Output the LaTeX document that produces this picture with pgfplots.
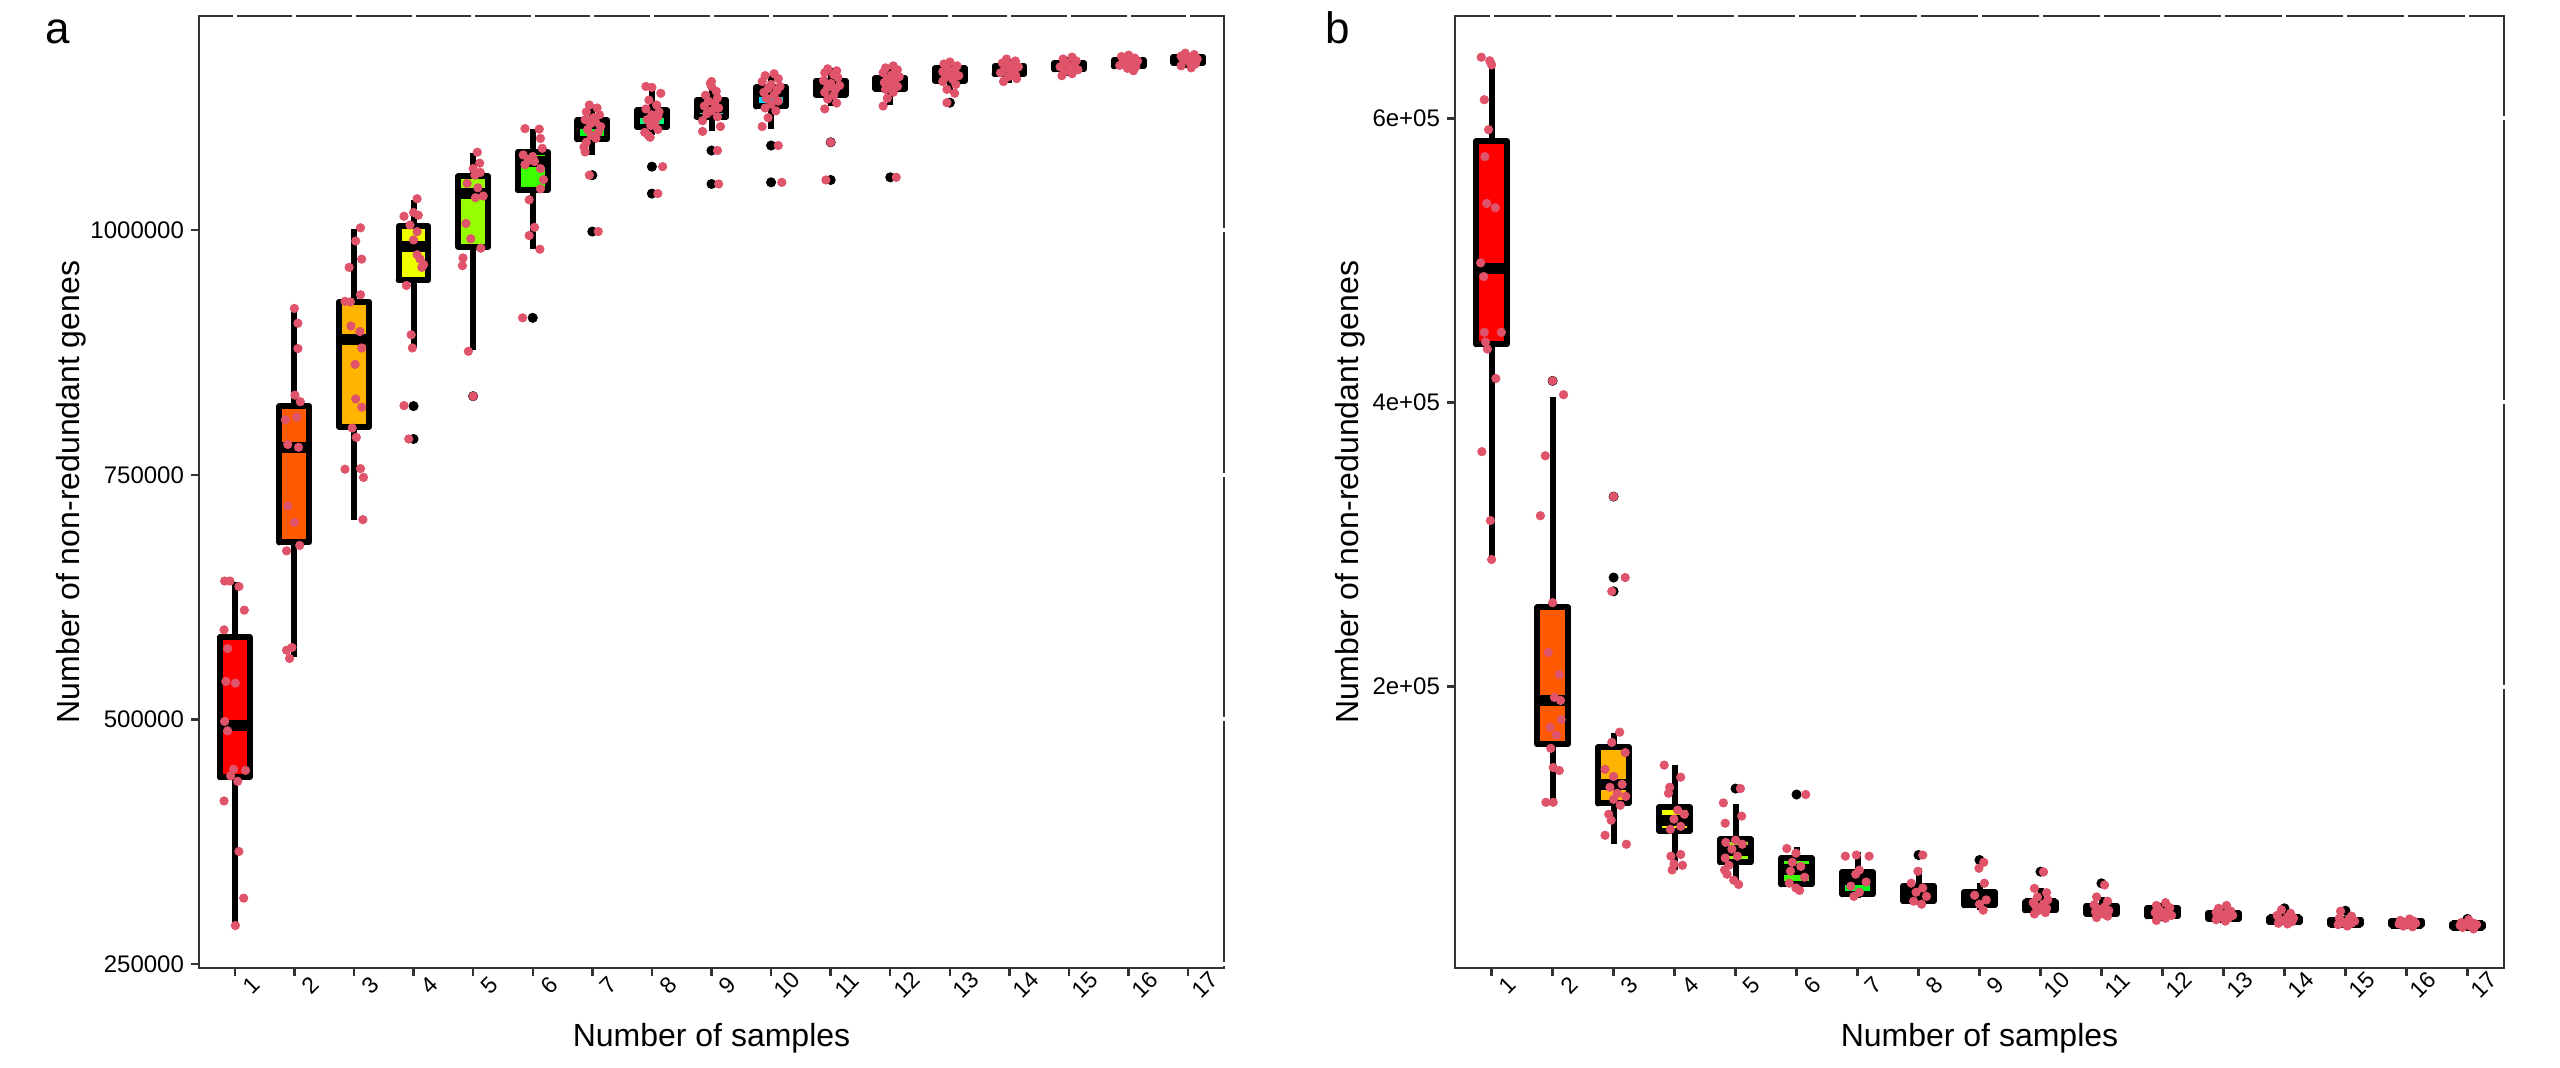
\documentclass[border=0pt]{standalone}
\usepackage{fontspec}
\setmainfont{Liberation Sans}
\usepackage{pgfplots}
\usepackage{pgfplotstable}
\pgfplotsset{compat=1.18}

\definecolor{ptpink}{HTML}{DF536B}
\definecolor{axgray}{HTML}{333333}
\definecolor{r1}{HTML}{FF0000}
\definecolor{r2}{HTML}{FF5A00}
\definecolor{r3}{HTML}{FFB400}
\definecolor{r4}{HTML}{F0FF00}
\definecolor{r5}{HTML}{96FF00}
\definecolor{r6}{HTML}{3CFF00}
\definecolor{r7}{HTML}{00FF1E}
\definecolor{r8}{HTML}{00FF78}
\definecolor{r9}{HTML}{00FFD2}
\definecolor{r10}{HTML}{00D2FF}
\definecolor{r11}{HTML}{0078FF}
\definecolor{r12}{HTML}{001EFF}
\definecolor{r13}{HTML}{3C00FF}
\definecolor{r14}{HTML}{9600FF}
\definecolor{r15}{HTML}{F000FF}
\definecolor{r16}{HTML}{FF00B4}
\definecolor{r17}{HTML}{FF005A}

% box: left, centre, right, lower whisker, Q1, median, Q3, upper whisker, fill
\newcommand{\bx}[9]{%
\addplot[draw=black, line width=3pt, line cap=butt] coordinates {(#2,#4) (#2,#8)};
\addplot[draw=black, fill=#9, line width=3pt, line join=round, line cap=round] coordinates {(#1,#5) (#3,#5) (#3,#7) (#1,#7) (#1,#5)};
\addplot[draw=black, line width=5.5pt, line cap=butt] coordinates {(#1,#6) (#3,#6)};
}

\pgfplotsset{
  myax/.style={scale only axis, anchor=south west, xmin=0.4, xmax=17.6,
    xtick={1,2,3,4,5,6,7,8,9,10,11,12,13,14,15,16,17},
    xticklabels={1,2,3,4,5,6,7,8,9,10,11,12,13,14,15,16,17},
    axis line style={draw=axgray,line width=1pt},
    tick style={draw=axgray,line width=1.2pt},
    tick align=outside, major tick length=4pt,
    xtick pos=left, ytick pos=left,
    yticklabel style={font=\fontsize{12}{14}\selectfont},
    xticklabel style={rotate=45, anchor=center, inner sep=0pt, xshift=2.5pt, yshift=-9pt,
      font=\fontsize{11.5}{13}\selectfont},
    scaled y ticks=false, clip=false},
  whiteticks/.style={scale only axis, anchor=south west, xmin=0.4, xmax=17.6,
    xtick={1,2,3,4,5,6,7,8,9,10,11,12,13,14,15,16,17},
    axis line style={draw=none},
    tick style={draw=white,line width=2pt},
    tick align=center, major tick length=6pt,
    xtick pos=right, ytick pos=right, xticklabels={}, yticklabels={},
    scaled y ticks=false},
  pts/.style={only marks, mark=*, mark size=2.1pt, color=ptpink, draw=ptpink, fill=ptpink},
  outl/.style={only marks, mark=*, mark size=2.3pt, color=black, draw=black, fill=black}
}

\pgfplotstableread{
x y
0.83 641500
0.92 641500
1.07 635900
1.16 611750
0.82 591600
0.88 572500
0.85 538900
1.01 537200
0.83 498000
0.88 488400
0.98 449200
1.18 448000
0.93 442400
1.05 436800
0.82 416700
1.07 365100
1.15 317400
1.01 289400
2.00 920100
2.06 905000
2.06 879100
2.01 831500
2.10 824800
2.04 809100
1.85 806300
1.89 781100
2.07 778200
1.89 718300
2.00 701400
2.09 677900
1.87 672300
1.96 573600
1.87 570800
1.92 562400
3.11 1002500
3.03 989000
3.13 970500
2.92 962100
3.11 934100
2.85 927400
2.94 926800
2.95 902100
3.10 896500
3.13 879700
3.02 862900
3.03 827600
3.13 819200
2.97 797900
3.04 788300
2.85 755800
3.11 756400
3.16 747400
3.15 704200
4.06 1032200
4.00 1018200
3.84 1014300
4.08 1015400
3.94 1005300
4.06 998600
4.00 990100
4.06 975000
4.11 970500
4.17 964900
4.14 962100
3.88 943600
3.96 893200
3.98 879700
3.84 820800
3.92 786700
5.07 1079800
5.11 1068600
5.00 1063000
5.12 1059100
5.03 1056300
4.90 1047900
5.08 1043400
5.17 1035000
5.04 1033300
4.88 1007000
4.96 991300
5.13 981700
4.83 971700
4.82 963800
4.92 876300
5.00 830400
5.87 1103900
6.11 1103400
6.13 1093900
6.16 1083800
5.84 1077000
6.00 1075400
5.93 1071400
6.03 1070300
5.87 1067000
6.13 1063000
6.18 1051800
6.13 1042300
5.94 1031100
6.03 1003000
5.94 994600
6.12 980600
5.83 910500
6.95 1128000
7.08 1125000
6.90 1121000
7.12 1118000
7.02 1115000
6.88 1113000
7.05 1111000
6.97 1109000
7.14 1106000
6.92 1103000
7.10 1100000
6.98 1097000
7.06 1094000
6.90 1090000
6.86 1085000
6.88 1080000
6.95 1056300
7.10 998700
7.90 1147000
8.00 1146000
8.15 1140000
7.95 1133000
8.08 1128000
7.90 1124000
8.12 1121000
8.00 1118000
8.10 1116000
7.92 1113000
8.05 1110000
7.98 1107000
8.10 1103000
7.88 1100000
7.94 1097000
7.97 1095000
8.18 1065000
8.10 1037500
9.00 1152000
8.98 1150000
9.00 1147000
9.08 1142000
8.90 1138000
9.10 1135000
8.95 1132000
9.05 1130000
8.88 1127000
9.12 1125000
9.00 1122000
8.92 1119000
9.10 1116000
8.85 1112000
9.15 1106000
8.85 1101000
9.10 1081500
9.12 1047300
10.05 1160000
9.90 1158000
10.12 1155000
9.85 1152000
10.00 1149000
10.15 1147000
9.95 1145000
10.10 1143000
9.88 1141000
10.05 1138000
9.92 1135000
10.12 1132000
10.00 1129000
9.90 1125000
10.08 1122000
9.95 1115000
9.85 1106000
10.12 1086600
10.18 1049000
10.95 1165000
11.10 1163000
10.90 1161000
11.05 1159000
11.12 1156000
10.88 1153000
11.00 1150000
11.15 1148000
10.95 1146000
11.08 1144000
10.90 1141000
11.05 1138000
10.95 1134000
11.10 1130000
10.90 1124000
11.00 1089900
10.92 1051400
12.05 1168000
11.92 1166000
12.12 1164000
11.88 1161000
12.03 1159000
12.15 1157000
11.95 1155000
12.08 1153000
11.90 1151000
12.00 1149000
12.12 1147000
11.92 1144000
12.05 1141000
11.95 1135000
11.88 1127000
12.10 1054100
13.00 1172000
12.90 1170000
13.12 1168000
12.95 1166000
13.08 1164000
12.88 1162000
13.02 1160000
13.15 1158000
12.92 1156000
13.05 1154000
12.88 1152000
13.10 1149000
12.95 1144000
13.08 1140000
12.95 1130400
13.95 1175000
14.10 1173000
13.88 1171000
14.00 1169000
14.15 1167000
13.92 1165000
14.05 1163000
13.85 1161000
14.10 1159000
13.98 1157000
14.12 1155000
13.90 1152000
15.05 1177000
14.90 1175000
15.12 1173000
14.95 1171000
15.08 1169000
14.85 1167000
15.02 1166000
15.15 1164000
14.92 1162000
15.05 1160000
14.88 1158000
16.00 1179000
15.88 1177500
16.10 1176000
15.95 1174500
16.15 1173000
15.90 1171500
16.05 1170000
15.85 1168500
16.12 1167000
15.98 1165500
16.08 1163000
16.95 1181000
17.10 1179500
16.88 1178000
17.05 1176500
17.15 1175000
16.92 1173500
17.02 1172000
17.12 1170000
16.88 1168000
17.05 1166000
}\ptsA

\pgfplotstableread{
x y
0.83 643000
0.97 640500
1.00 637600
0.88 613100
0.95 592000
0.89 573000
0.92 540100
1.06 537100
0.82 498300
0.87 488600
0.88 449400
1.16 449400
0.90 442600
0.93 437600
1.07 416900
0.84 365400
0.98 316900
1.00 289500
2.00 415200
2.18 405500
1.88 362500
1.80 320300
2.00 259100
1.93 224100
2.11 208500
2.03 192500
2.13 190300
2.14 176800
1.96 171400
2.06 165900
1.97 156600
2.01 143100
2.11 141000
1.89 118600
2.01 118600
3.00 333800
3.19 276800
2.97 267100
3.10 168000
2.97 160800
3.19 153600
2.86 141800
3.00 136800
3.14 131300
2.94 129200
3.06 125000
3.20 122800
3.00 120700
3.11 116500
2.92 110200
2.96 106000
2.86 95400
3.21 89100
3.83 144800
4.10 136300
3.92 129200
3.90 125000
4.05 113100
4.16 110200
3.99 106800
4.10 101700
3.93 99600
4.10 81900
3.94 80700
3.99 75200
4.13 74300
3.96 71000
5.08 128300
4.80 118200
5.10 108900
4.83 103900
5.00 92000
4.84 90400
5.11 89100
4.94 85700
5.03 80700
4.83 79400
4.89 74300
4.82 71000
4.86 68000
4.97 63800
5.05 60800
6.15 124100
5.84 86100
5.99 82800
5.93 76400
6.07 73500
5.90 70100
6.13 65900
5.88 61700
5.99 58300
6.05 56600
6.80 80700
6.98 81500
7.19 80700
7.03 70900
6.97 68000
7.14 62500
6.89 59600
7.03 55300
6.94 52400
8.07 81500
7.99 70100
7.88 61700
8.07 58300
7.96 55300
8.13 52400
7.92 49000
8.05 46900
9.07 76400
8.99 72200
9.08 61700
8.92 53200
9.11 49900
9.00 46900
9.06 42700
10.05 69600
9.90 58000
10.10 55000
9.95 52000
10.12 50000
9.88 48000
10.05 47000
9.92 45500
10.10 44000
9.97 42500
10.08 41000
9.90 40000
11.05 60400
10.92 52000
11.10 49000
10.88 46500
11.05 45000
10.95 43500
11.12 42500
10.90 41500
11.03 40000
11.10 38500
10.92 37500
12.05 48000
11.90 46000
12.12 44500
11.95 43000
12.08 42000
11.88 41000
12.02 40000
12.15 39000
11.92 38000
12.05 37000
11.90 35500
13.05 46000
12.92 44000
13.12 42000
12.88 41000
13.02 40000
13.15 39000
12.95 38000
13.08 37000
12.88 36000
13.03 35000
13.95 43000
14.10 40500
13.88 39000
14.05 38000
14.15 37000
13.92 36000
14.02 35500
14.12 34500
13.90 33500
14.05 33000
14.92 42000
15.10 38500
14.90 37000
15.05 36000
15.15 35000
14.95 34000
15.10 33500
14.88 32500
15.03 31500
16.05 36500
15.90 35500
16.12 35000
15.95 34000
16.15 33500
15.88 33000
16.05 32500
15.95 31500
16.10 31000
17.02 36000
16.90 34000
17.10 33500
16.95 33000
17.15 32500
16.88 32000
17.05 31500
16.92 30500
17.10 29500
}\ptsB

\begin{document}
\begin{tikzpicture}
\path[use as bounding box] (0,0) rectangle (1280pt,533.5pt);

% ---------- panel a ----------
\begin{axis}[myax, at={(99.5pt,49.5pt)}, width=512.5pt, height=476pt,
  ymin=246000, ymax=1219000,
  ytick={250000,500000,750000,1000000},
  yticklabels={250000,500000,750000,1000000}]
\bx{0.75}{1}{1.25}{289400}{441000}{494000}{584000}{640000}{r1}
\bx{1.75}{2}{2.25}{564000}{681000}{778000}{820000}{920000}{r2}
\bx{2.75}{3}{3.25}{704000}{799000}{888000}{927000}{1001000}{r3}
\bx{3.75}{4}{4.25}{881000}{949000}{983000}{1004000}{1031000}{r4}
\bx{4.75}{5}{5.25}{878000}{983000}{1038000}{1055000}{1079000}{r5}
\bx{5.75}{6}{6.25}{981000}{1041000}{1070000}{1080000}{1104000}{r6}
\bx{6.75}{7}{7.25}{1077000}{1093000}{1109000}{1112500}{1128000}{r7}
\bx{7.75}{8}{8.25}{1097000}{1105500}{1120000}{1122500}{1145000}{r8}
\bx{8.75}{9}{9.25}{1101000}{1116000}{1125000}{1133000}{1152000}{r9}
\bx{9.75}{10}{10.25}{1104000}{1126500}{1142000}{1146000}{1159000}{r10}
\bx{10.75}{11}{11.25}{1127000}{1138500}{1145000}{1153000}{1165500}{r11}
\bx{11.75}{12}{12.25}{1128000}{1144500}{1150000}{1155700}{1169000}{r12}
\bx{12.75}{13}{13.25}{1140000}{1153000}{1160000}{1165500}{1172000}{r13}
\bx{13.75}{14}{14.25}{1151000}{1159500}{1164000}{1168000}{1175000}{r14}
\bx{14.75}{15}{15.25}{1158000}{1164500}{1167000}{1171000}{1177000}{r15}
\bx{15.75}{16}{16.25}{1162000}{1167500}{1171000}{1174000}{1179000}{r16}
\bx{16.75}{17}{17.25}{1166000}{1171000}{1174000}{1177000}{1181000}{r17}
\addplot[outl] coordinates {(4,820300) (4,786700) (5,830400) (6,910500)
  (7,1056300) (7,998700) (8,1065000) (8,1037500) (9,1081500) (9,1047300)
  (10,1086600) (10,1049000) (11,1089900) (11,1051400) (12,1054100) (13,1130400)};
\addplot[pts] table[x=x, y=y] {\ptsA};
\end{axis}
\begin{axis}[whiteticks, at={(99.5pt,49.5pt)}, width=512.5pt, height=476pt,
  ymin=246000, ymax=1219000, ytick={250000,500000,750000,1000000}]
\end{axis}

% ---------- panel b ----------
\begin{axis}[myax, at={(727.5pt,49.5pt)}, width=524.5pt, height=476pt,
  ymin=2000, ymax=672000,
  ytick={200000,400000,600000},
  yticklabels={2e+05,4e+05,6e+05}]
\bx{0.75}{1}{1.25}{289400}{441000}{494000}{584000}{640000}{r1}
\bx{1.75}{2}{2.25}{118600}{159600}{190300}{255800}{404200}{r2}
\bx{2.75}{3}{3.25}{89100}{117800}{131300}{157500}{167100}{r3}
\bx{3.75}{4}{4.25}{71000}{98400}{106000}{115300}{144800}{r4}
\bx{4.75}{5}{5.25}{60800}{76400}{84900}{92500}{117400}{r5}
\bx{5.75}{6}{6.25}{56600}{60900}{71000}{79400}{87400}{r6}
\bx{6.75}{7}{7.25}{51000}{53900}{64600}{69400}{83900}{r7}
\bx{7.75}{8}{8.25}{46000}{49100}{54100}{59900}{72400}{r8}
\bx{8.75}{9}{9.25}{42700}{46100}{52400}{55300}{62000}{r9}
\bx{9.75}{10}{10.25}{40000}{42600}{47500}{48800}{58100}{r10}
\bx{10.75}{11}{11.25}{37500}{40200}{43000}{45800}{52000}{r11}
\bx{11.75}{12}{12.25}{35000}{38400}{40500}{44200}{48000}{r12}
\bx{12.75}{13}{13.25}{34000}{36700}{38500}{40700}{45000}{r13}
\bx{13.75}{14}{14.25}{33000}{34400}{35800}{37200}{41000}{r14}
\bx{14.75}{15}{15.25}{31500}{32700}{34300}{36000}{38500}{r15}
\bx{15.75}{16}{16.25}{31000}{32500}{33500}{34900}{36500}{r16}
\bx{16.75}{17}{17.25}{29500}{30800}{32000}{33200}{34500}{r17}
\addplot[outl] coordinates {(2,415200) (3,333800) (3,276800) (3,267100)
  (5,128300) (6,124100) (8,81500) (9,78000) (10,69800) (11,61600)
  (14,44000) (15,42300) (17,36500)};
\addplot[pts] table[x=x, y=y] {\ptsB};
\end{axis}
\begin{axis}[whiteticks, at={(727.5pt,49.5pt)}, width=524.5pt, height=476pt,
  ymin=2000, ymax=672000, ytick={200000,400000,600000}]
\end{axis}

% ---------- titles ----------
\node[anchor=base west, inner sep=0pt] at (22.5pt,511.5pt) {\fontsize{22}{26}\selectfont a};
\node[anchor=base west, inner sep=0pt] at (662.5pt,511.5pt) {\fontsize{22}{26}\selectfont b};
\node[anchor=base, inner sep=0pt] at (355.75pt,10.5pt) {\fontsize{16}{19}\selectfont Number of samples};
\node[anchor=base, inner sep=0pt] at (989.75pt,10.5pt) {\fontsize{16}{19}\selectfont Number of samples};
\node[rotate=90, anchor=base, inner sep=0pt] at (39.5pt,287.5pt) {\fontsize{16}{19}\selectfont Number of non-redundant genes};
\node[rotate=90, anchor=base, inner sep=0pt] at (679pt,287.5pt) {\fontsize{16}{19}\selectfont Number of non-redundant genes};
\end{tikzpicture}
\end{document}
